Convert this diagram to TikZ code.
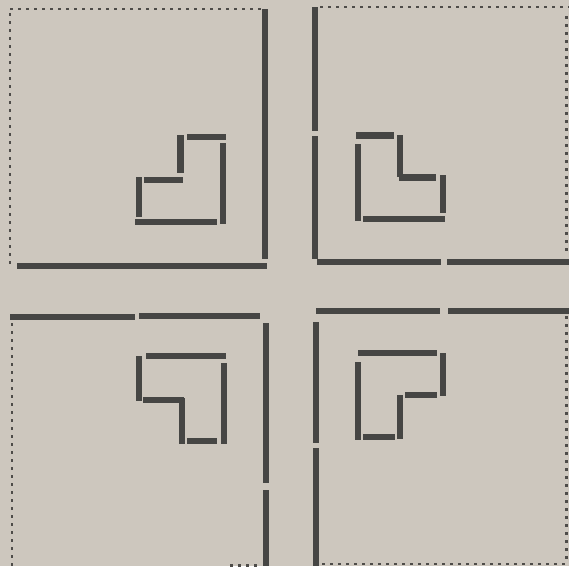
\documentclass[tikz,border=0pt]{standalone}
\definecolor{paper}{RGB}{205,199,190}
\definecolor{ink}{RGB}{70,70,68}
\definecolor{dotink}{RGB}{78,76,73}
\begin{document}
\begin{tikzpicture}[x=1pt,y=-1pt,
  bar/.style={draw=ink,line width=6pt,line cap=butt},
  sbar/.style={draw=ink,line width=6.3pt,line cap=butt},
  dotline/.style={draw=dotink,line width=2.4pt,dash pattern=on 2.6pt off 5.4pt}]
\fill[paper] (0,0) rectangle (569,566);
\useasboundingbox (0,0) rectangle (569,566);
% dotted borders
\draw[dotline] (10,9) -- (262,9);
\draw[dotline] (10,13) -- (10,267);
\draw[dotline] (320,7) -- (569,7);
\draw[dotline] (566.5,16) -- (566.5,254);
\draw[dotline] (12,323) -- (12,566);
\draw[dotline] (230,565.5) -- (258,565.5);
\draw[dotline] (322,564) -- (566,564);
\draw[dotline] (566.5,316) -- (566.5,560);
% main dividing bars
\draw[bar] (265,9) -- (265,259);
\draw[bar] (17,266) -- (267,266);
\draw[bar] (315,7) -- (315,131);
\draw[bar] (315,136) -- (315,259);
\draw[bar] (317,261.5) -- (441,261.5);
\draw[bar] (447,261.5) -- (569,261.5);
\draw[bar] (10,316.5) -- (135,316.5);
\draw[bar] (139,316) -- (260,316);
\draw[bar] (265.5,323) -- (265.5,483);
\draw[bar] (265.5,490) -- (265.5,566);
\draw[bar] (316,310.5) -- (440,310.5);
\draw[bar] (448,310.5) -- (569,310.5);
\draw[bar] (316,322) -- (316,443);
\draw[bar] (316,448) -- (316,566);
% top-left shape
\draw[sbar] (187,137) -- (226,137);
\draw[sbar] (180.5,135) -- (180.5,173);
\draw[sbar] (223.3,143) -- (223.3,224);
\draw[sbar] (144,180) -- (183,180);
\draw[sbar] (139,177) -- (139,217);
\draw[sbar] (135,222) -- (217,222);
% top-right shape
\draw[sbar] (356,135.5) -- (394,135.5);
\draw[sbar] (400.3,135) -- (400.3,177);
\draw[sbar] (358,144) -- (358,221);
\draw[sbar] (399,177.5) -- (436,177.5);
\draw[sbar] (442.7,175) -- (442.7,213);
\draw[sbar] (363,219) -- (445,219);
% bottom-left shape
\draw[sbar] (146,356.3) -- (226,356.3);
\draw[sbar] (139.3,356) -- (139.3,401);
\draw[sbar] (223.7,363) -- (223.7,444);
\draw[sbar] (143,399.7) -- (184,399.7);
\draw[sbar] (181.7,398) -- (181.7,444);
\draw[sbar] (187,440.7) -- (217,440.7);
% bottom-right shape
\draw[sbar] (358,352.7) -- (437,352.7);
\draw[sbar] (442.7,353) -- (442.7,396);
\draw[sbar] (358.3,362) -- (358.3,440);
\draw[sbar] (405,395) -- (437,395);
\draw[sbar] (400,395) -- (400,439);
\draw[sbar] (363,437.3) -- (395,437.3);
\end{tikzpicture}
\end{document}
